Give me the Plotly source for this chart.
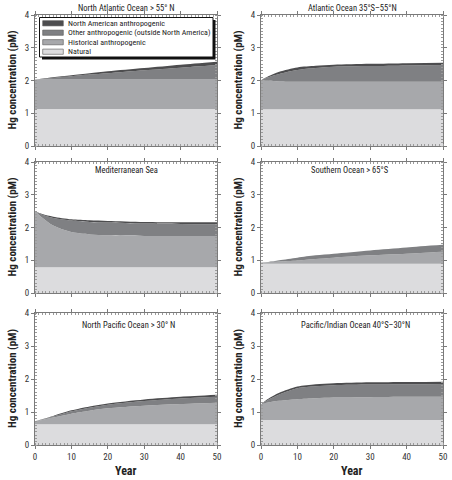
import plotly.graph_objects as go
from plotly.subplots import make_subplots

# ---------------- data ----------------
years = [0, 2, 5, 10, 15, 20, 30, 40, 50]

panel_titles = [
    "North Atlantic Ocean > 55° N",
    "Atlantic Ocean 35°S–55°N",
    "Mediterranean Sea",
    "Southern Ocean > 65°S",
    "North Pacific Ocean > 30° N",
    "Pacific/Indian Ocean 40°S–30°N",
]

series_names = [
    "Natural",
    "Historical anthropogenic",
    "Other anthropogenic (outside North America)",
    "North American anthropogenic",
]

y_title = "Hg concentration (pM)"
x_title = "Year"

# North Atlantic Ocean > 55° N
natural_natl = [1.13] * 9
historical_natl = [0.90] * 9
other_natl = [0, 0.02, 0.05, 0.10, 0.15, 0.19, 0.28, 0.36, 0.44]
namer_natl = [0, 0.01, 0.02, 0.03, 0.04, 0.06, 0.07, 0.09, 0.10]

# Atlantic Ocean 35°S–55°N
natural_atl = [1.12] * 9
historical_atl = [0.89, 0.87, 0.85, 0.84, 0.84, 0.84, 0.84, 0.84, 0.84]
other_atl = [0, 0.11, 0.23, 0.36, 0.42, 0.46, 0.48, 0.50, 0.51]
namer_atl = [0, 0.03, 0.07, 0.08, 0.07, 0.06, 0.07, 0.07, 0.07]

# Mediterranean Sea
natural_med = [0.79] * 9
historical_med = [1.71, 1.51, 1.27, 1.07, 1.00, 0.97, 0.95, 0.95, 0.95]
other_med = [0, 0.09, 0.23, 0.35, 0.38, 0.39, 0.38, 0.37, 0.36]
namer_med = [0, 0.02, 0.04, 0.04, 0.05, 0.05, 0.05, 0.05, 0.06]

# Southern Ocean > 65°S
natural_so = [0.89] * 9
historical_so = [0.04, 0.05, 0.07, 0.10, 0.15, 0.19, 0.26, 0.31, 0.37]
other_so = [0, 0.01, 0.04, 0.09, 0.11, 0.12, 0.15, 0.19, 0.21]
namer_so = [0, 0, 0, 0, 0, 0, 0, 0, 0]

# North Pacific Ocean > 30° N
natural_npac = [0.63] * 9
historical_npac = [0.09, 0.13, 0.20, 0.32, 0.41, 0.48, 0.56, 0.61, 0.65]
other_npac = [0, 0.01, 0.03, 0.07, 0.09, 0.11, 0.14, 0.17, 0.18]
namer_npac = [0, 0.01, 0.02, 0.03, 0.04, 0.04, 0.05, 0.05, 0.06]

# Pacific/Indian Ocean 40°S–30°N
natural_pind = [0.76] * 9
historical_pind = [0.48, 0.53, 0.58, 0.63, 0.66, 0.68, 0.69, 0.70, 0.70]
other_pind = [0, 0.08, 0.19, 0.33, 0.36, 0.37, 0.38, 0.38, 0.39]
namer_pind = [0, 0.03, 0.05, 0.05, 0.06, 0.06, 0.07, 0.07, 0.07]

x_ticks = [0, 10, 20, 30, 40, 50]
y_ticks = [0, 1, 2, 3, 4]

# ---------------- styling ----------------
colors = ["#dcdcde", "#a7a8ab", "#7f8083", "#4d4d4f"]
FONT = "Liberation Sans Narrow, Arial Narrow, Roboto Condensed, Liberation Sans, sans-serif"
W, H = 452, 480

panels = [
    (natural_natl, historical_natl, other_natl, namer_natl),
    (natural_atl, historical_atl, other_atl, namer_atl),
    (natural_med, historical_med, other_med, namer_med),
    (natural_so, historical_so, other_so, namer_so),
    (natural_npac, historical_npac, other_npac, namer_npac),
    (natural_pind, historical_pind, other_pind, namer_pind),
]

fig = make_subplots(rows=3, cols=2)


def px(x):
    return x / W


def py(y):
    return 1 - y / H


col_px = [(35, 217), (261, 443)]
row_px = [(15, 146), (162, 293), (313, 445)]
col_dom = [(px(a), px(b)) for a, b in col_px]
row_dom = [(py(b), py(a)) for a, b in row_px]

for i, layers in enumerate(panels):
    r, c = i // 2 + 1, i % 2 + 1
    for j, vals in enumerate(layers):
        fig.add_trace(
            go.Scatter(
                x=years, y=vals, name=series_names[j], stackgroup=f"g{i}",
                mode="lines", line=dict(width=0, shape="spline", smoothing=0.8),
                fillcolor=colors[j], showlegend=False, hoverinfo="skip",
            ),
            row=r, col=c,
        )

axis_common = dict(
    showline=True, linecolor="#7a7a7a", linewidth=1, mirror="allticks",
    ticks="outside", ticklen=3, tickcolor="#7a7a7a", showgrid=False, zeroline=False,
    tickfont=dict(family=FONT, size=9, color="#333"), automargin=False,
)

for i in range(6):
    r, c = i // 2 + 1, i % 2 + 1
    fig.update_xaxes(
        range=[0, 50], tickvals=x_ticks, domain=col_dom[c - 1],
        showticklabels=(r == 3),
        minor=dict(ticks="inside", ticklen=2, dtick=1, tickcolor="#9a9a9a"),
        row=r, col=c, **axis_common,
    )
    fig.update_yaxes(
        range=[0, 4], tickvals=y_ticks, domain=row_dom[r - 1],
        minor=dict(ticks="inside", ticklen=2, dtick=0.1, tickcolor="#9a9a9a"),
        row=r, col=c, **axis_common,
    )

# axis titles
for c, (a, b) in enumerate(col_px):
    for r, (t, btm) in enumerate(row_px):
        fig.add_annotation(x=px(a - 23), y=py((t + btm) / 2), xref="paper", yref="paper",
                           text=y_title, textangle=-90, showarrow=False,
                           xanchor="center", yanchor="middle",
                           font=dict(family=FONT, size=11, color="#222", weight="bold"))
    fig.add_annotation(x=px((a + b) / 2), y=py(471), xref="paper", yref="paper",
                       text=x_title, showarrow=False, xanchor="center", yanchor="middle",
                       font=dict(family=FONT, size=12, color="#222", weight="bold"))

# panel titles
title_pos = [(126, 8), (352, 8), (126, 170), (350, 170), (128, 325), (355, 325)]
for t, (x, y) in zip(panel_titles, title_pos):
    fig.add_annotation(x=px(x), y=py(y), xref="paper", yref="paper", text=t,
                       showarrow=False, font=dict(family=FONT, size=8.5, color="#222"),
                       xanchor="center", yanchor="middle")

# legend (box inside first panel)
lx0, ly0, lx1, ly1 = 39.5, 17.5, 213, 57
fig.add_shape(type="rect", xref="paper", yref="paper", x0=px(lx0 + 2.5), x1=px(lx1 + 2.5),
              y0=py(ly1 + 2.5), y1=py(ly0 + 2.5), fillcolor="#111", line=dict(width=0))
fig.add_shape(type="rect", xref="paper", yref="paper", x0=px(lx0), x1=px(lx1),
              y0=py(ly1), y1=py(ly0), fillcolor="white", line=dict(width=1, color="#111"))
legend_rows = [23.3, 32.7, 42.2, 51.7]
for k, yrow in enumerate(legend_rows):
    j = 3 - k
    fig.add_shape(type="rect", xref="paper", yref="paper", x0=px(42.7), x1=px(63.3),
                  y0=py(yrow + 2.6), y1=py(yrow - 2.6), fillcolor=colors[j],
                  line=dict(width=0.6, color="#555"))
    fig.add_annotation(x=px(65.5), y=py(yrow), xref="paper", yref="paper",
                       text=series_names[j], showarrow=False, xanchor="left", yanchor="middle",
                       font=dict(family=FONT, size=8, color="#222"))

fig.update_layout(
    width=W, height=H, margin=dict(l=0, r=0, t=0, b=0),
    paper_bgcolor="white", plot_bgcolor="white", showlegend=False,
    font=dict(family=FONT, size=9, color="#222"),
)

fig.write_html(
    "out.html",
    config={"displayModeBar": False},
    post_script="document.body.style.margin='0';document.body.style.overflow='hidden';",
)
